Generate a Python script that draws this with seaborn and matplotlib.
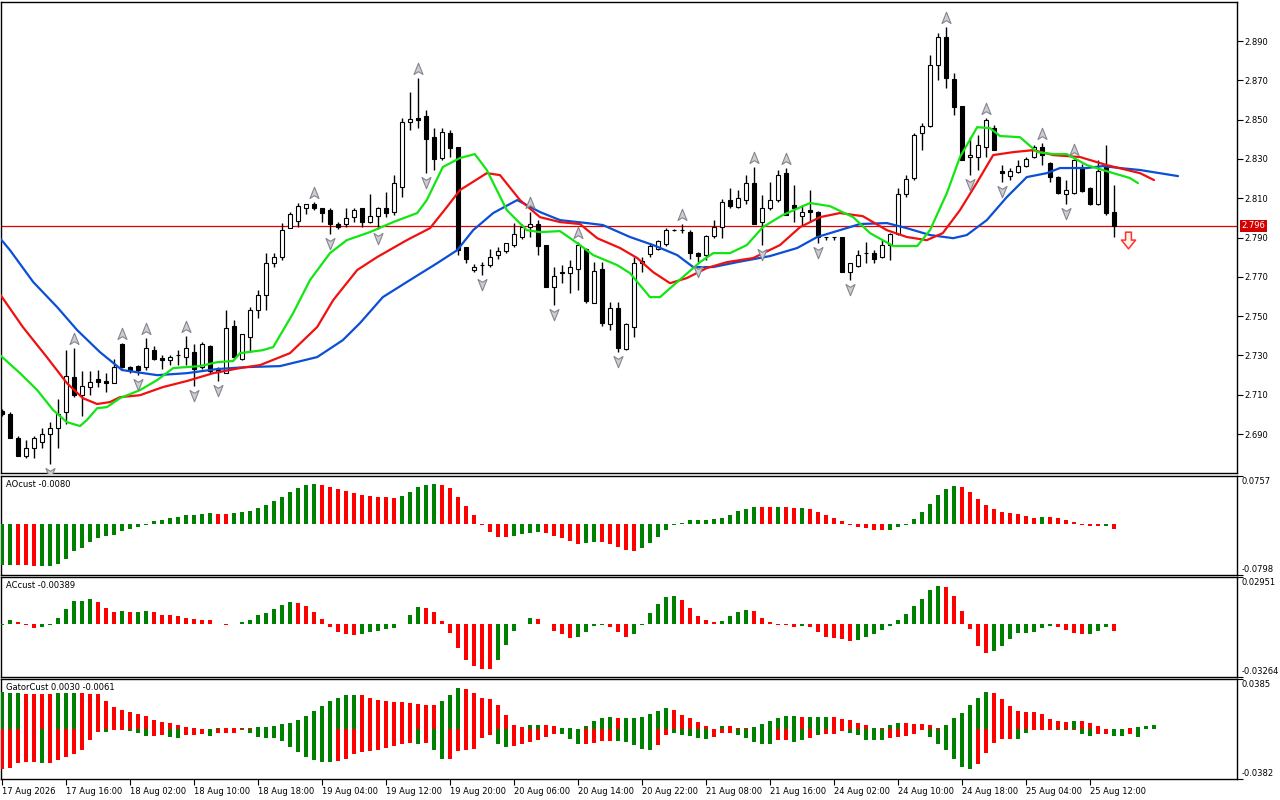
import numpy as np
import matplotlib
matplotlib.use("Agg")
import matplotlib.pyplot as plt
import seaborn as sns
from matplotlib.path import Path
from matplotlib import transforms

sns.set_theme(style="white")
plt.rcParams['font.family'] = ['DejaVu Sans']

# ---------------- DATA ----------------
OPEN = [2.702, 2.700, 2.688, 2.679, 2.683, 2.686, 2.690, 2.693, 2.701, 2.719,
        2.710, 2.714, 2.718, 2.717, 2.716, 2.736, 2.724, 2.7245, 2.724, 2.733,
        2.7285, 2.7275, 2.730, 2.729, 2.732, 2.724, 2.735, 2.7215, 2.721, 2.745,
        2.728, 2.7395, 2.753, 2.7607, 2.777, 2.780, 2.7948, 2.7984, 2.805, 2.807,
        2.805, 2.804, 2.797, 2.797, 2.8004, 2.805, 2.798, 2.801, 2.805, 2.803,
        2.816, 2.849, 2.851, 2.852, 2.841, 2.8305, 2.843, 2.836, 2.7852, 2.7735,
        2.776, 2.776, 2.781, 2.783, 2.7862, 2.7903, 2.7955, 2.797, 2.786, 2.765,
        2.772, 2.772, 2.774, 2.7841, 2.7567, 2.774, 2.746, 2.7541, 2.7333, 2.7445,
        2.777, 2.7816, 2.7841, 2.7867, 2.7938, 2.7938, 2.7928, 2.7821, 2.7811, 2.7908,
        2.7953, 2.8091, 2.8055, 2.8091, 2.8177, 2.798, 2.805, 2.809, 2.8228, 2.8065,
        2.801, 2.804, 2.803, 2.7903, 2.7903, 2.7903, 2.7724, 2.7755, 2.7821, 2.7821,
        2.7801, 2.7862, 2.7918, 2.8121, 2.8203, 2.8432, 2.8467, 2.8778, 2.8920, 2.8707,
        2.8569, 2.831, 2.831, 2.8361, 2.8457, 2.8238, 2.8213, 2.8233, 2.8264, 2.831,
        2.8361, 2.8279, 2.8208, 2.8121, 2.8126, 2.8254, 2.8152, 2.8070, 2.8259, 2.803]
HIGH = [2.703, 2.701, 2.689, 2.687, 2.689, 2.693, 2.696, 2.708, 2.733, 2.734,
        2.722, 2.722, 2.7225, 2.721, 2.728, 2.7365, 2.7245, 2.725, 2.739, 2.735,
        2.730, 2.730, 2.733, 2.740, 2.736, 2.737, 2.7355, 2.724, 2.753, 2.748,
        2.741, 2.7545, 2.7635, 2.782, 2.782, 2.7975, 2.803, 2.8076, 2.8072, 2.808,
        2.805, 2.805, 2.798, 2.805, 2.805, 2.805, 2.8121, 2.8055, 2.813, 2.822,
        2.851, 2.864, 2.871, 2.855, 2.846, 2.846, 2.8447, 2.836, 2.7852, 2.7765,
        2.7775, 2.7841, 2.785, 2.787, 2.7974, 2.7969, 2.803, 2.799, 2.786, 2.775,
        2.776, 2.7785, 2.788, 2.7845, 2.7775, 2.7775, 2.7572, 2.7572, 2.7465, 2.780,
        2.780, 2.7872, 2.789, 2.7948, 2.7942, 2.7969, 2.7938, 2.7826, 2.7913, 2.799,
        2.8096, 2.8152, 2.8142, 2.8218, 2.8259, 2.8116, 2.8182, 2.8244, 2.8254, 2.8167,
        2.8065, 2.8142, 2.8035, 2.7905, 2.7905, 2.7905, 2.777, 2.7836, 2.7877, 2.7836,
        2.7887, 2.7923, 2.8152, 2.8218, 2.8432, 2.8483, 2.8829, 2.8941, 2.8971, 2.8737,
        2.8569, 2.8411, 2.8422, 2.8508, 2.8473, 2.8269, 2.8254, 2.8294, 2.831, 2.8371,
        2.8381, 2.8284, 2.8213, 2.8193, 2.8299, 2.8274, 2.8157, 2.8294, 2.8371, 2.8167]
LOW = [2.699, 2.688, 2.679, 2.678, 2.678, 2.683, 2.675, 2.683, 2.695, 2.709,
       2.699, 2.710, 2.714, 2.7115, 2.716, 2.7235, 2.721, 2.720, 2.7225, 2.7275,
       2.723, 2.725, 2.725, 2.725, 2.7145, 2.723, 2.721, 2.717, 2.721, 2.7285,
       2.7275, 2.732, 2.749, 2.753, 2.775, 2.7785, 2.7948, 2.7953, 2.802, 2.804,
       2.7979, 2.7918, 2.7945, 2.7955, 2.798, 2.7955, 2.7975, 2.7945, 2.8004, 2.8015,
       2.8106, 2.845, 2.846, 2.823, 2.8244, 2.8294, 2.831, 2.781, 2.777, 2.7724,
       2.7712, 2.775, 2.779, 2.782, 2.785, 2.7895, 2.7903, 2.781, 2.7648, 2.7556,
       2.767, 2.762, 2.7633, 2.7567, 2.7565, 2.745, 2.7429, 2.7317, 2.733, 2.7394,
       2.7724, 2.7801, 2.7836, 2.7857, 2.7935, 2.7923, 2.779, 2.7775, 2.7785, 2.7897,
       2.7897, 2.8050, 2.805, 2.807, 2.7969, 2.7862, 2.804, 2.8081, 2.8015, 2.7979,
       2.7964, 2.7979, 2.787, 2.789, 2.789, 2.7724, 2.7684, 2.775, 2.777, 2.777,
       2.7796, 2.7785, 2.7913, 2.8106, 2.8193, 2.8345, 2.8462, 2.8702, 2.8661, 2.8523,
       2.8294, 2.8218, 2.8244, 2.831, 2.8345, 2.8182, 2.8193, 2.8228, 2.8259, 2.8305,
       2.8269, 2.8182, 2.8121, 2.807, 2.8121, 2.8132, 2.8065, 2.8065, 2.8015, 2.7903]
CLOSE = [2.700, 2.688, 2.679, 2.683, 2.688, 2.690, 2.693, 2.700, 2.7195, 2.710,
         2.7145, 2.7165, 2.7165, 2.716, 2.724, 2.724, 2.7225, 2.7225, 2.734, 2.728,
         2.7275, 2.729, 2.7302, 2.734, 2.723, 2.736, 2.722, 2.7225, 2.744, 2.729,
         2.741, 2.753, 2.761, 2.777, 2.780, 2.794, 2.802, 2.806, 2.807, 2.805,
         2.8025, 2.797, 2.7955, 2.800, 2.804, 2.798, 2.801, 2.805, 2.8025, 2.8177,
         2.849, 2.8505, 2.850, 2.840, 2.830, 2.8437, 2.8355, 2.7836, 2.779, 2.775,
         2.7762, 2.780, 2.783, 2.787, 2.792, 2.7953, 2.797, 2.7857, 2.765, 2.7704,
         2.7724, 2.775, 2.786, 2.7577, 2.7729, 2.7465, 2.7541, 2.7338, 2.746, 2.777,
         2.778, 2.7857, 2.7882, 2.7938, 2.7940, 2.794, 2.7821, 2.7806, 2.7908, 2.7953,
         2.8081, 2.806, 2.8101, 2.8177, 2.7969, 2.805, 2.809, 2.8218, 2.8015, 2.805,
         2.803, 2.803, 2.7903, 2.7905, 2.7903, 2.7724, 2.777, 2.7811, 2.7822, 2.7791,
         2.7862, 2.7918, 2.8121, 2.8198, 2.8422, 2.8467, 2.8778, 2.8920, 2.8712, 2.8564,
         2.8294, 2.832, 2.8371, 2.8498, 2.8345, 2.8228, 2.8238, 2.8264, 2.8299, 2.8361,
         2.832, 2.8208, 2.8126, 2.8142, 2.8294, 2.8137, 2.8070, 2.8238, 2.8025, 2.796]

TIME_LABELS = ["17 Aug 2026", "17 Aug 16:00", "18 Aug 02:00", "18 Aug 10:00", "18 Aug 18:00",
               "19 Aug 04:00", "19 Aug 12:00", "19 Aug 20:00", "20 Aug 06:00", "20 Aug 14:00",
               "20 Aug 22:00", "21 Aug 08:00", "21 Aug 16:00", "24 Aug 02:00", "24 Aug 10:00",
               "24 Aug 18:00", "25 Aug 04:00", "25 Aug 12:00"]
TIME_LABEL_BARS = [0, 8, 16, 24, 32, 40, 48, 56, 64, 72, 80, 88, 96, 104, 112, 120, 128, 136]

PRICE_TICKS = [2.690, 2.710, 2.730, 2.750, 2.770, 2.790, 2.810, 2.830, 2.850, 2.870, 2.890]
PRICE_RANGE = [2.6702, 2.9099]
LAST_PRICE = 2.796

UP_FRACTALS = [9, 15, 18, 23, 39, 52, 66, 72, 85, 94, 98, 118, 123, 130, 134]
DOWN_FRACTALS = [6, 17, 24, 27, 41, 47, 53, 60, 69, 77, 87, 95, 102, 106, 121, 125, 133]
SELL_SIGNALS = [139]

# Alligator lines (bar position, price)
JAW_X = [-0.25, 1, 3.9, 6.9, 9.4, 12.25, 15, 19.4, 23.1, 26.9, 30.6, 34.75, 39.4, 42.6, 44.75,
         47.6, 51, 54.4, 56.9, 58.9, 61.4, 64.4, 67.25, 69.75, 73.1, 75.1, 78.5, 81.4, 84.4,
         86.4, 88.9, 91.9, 96, 99.4, 101.9, 104.75, 107.25, 110.6, 113.1, 116, 118.9, 120.6,
         123.1, 125.6, 128.1, 130.6, 132.25, 135.6, 137.6, 139.75, 142.25, 147]
JAW_Y = [2.7897, 2.7836, 2.7674, 2.7546, 2.7429, 2.7317, 2.7226, 2.7200, 2.7210, 2.7231, 2.7241,
         2.7246, 2.7292, 2.7378, 2.7465, 2.7597, 2.7684, 2.7770, 2.7836, 2.7938, 2.8025, 2.8091,
         2.8030, 2.7989, 2.7974, 2.7964, 2.7903, 2.7862, 2.7811, 2.7750, 2.7750, 2.7775, 2.7806,
         2.7847, 2.7903, 2.7938, 2.7969, 2.7974, 2.7948, 2.7913, 2.7897, 2.7913, 2.7989, 2.8106,
         2.8208, 2.8228, 2.8254, 2.8254, 2.8264, 2.8254, 2.8244, 2.8213]
TEETH_X = [-0.25, 2.6, 5.6, 8.1, 10.1, 11.9, 13.5, 14.75, 17.25, 20.1, 23.1, 26.4, 29.75, 32.25,
           36, 39.4, 41.4, 44.4, 46.9, 50.6, 53.5, 55.6, 57.25, 60.6, 62.25, 64.75, 67.25, 69.75,
           72.25, 74.4, 77.25, 79.4, 81.4, 83.5, 85.6, 88.1, 90.6, 93.9, 97.25, 99.75, 102.25,
           104.75, 107.6, 110.6, 113.1, 115.6, 117.6, 119.75, 121.9, 123.9, 126.4, 128.9, 131.4,
           134.75, 138.1, 142.25, 144]
TEETH_Y = [2.7612, 2.7445, 2.7292, 2.7160, 2.7083, 2.7053, 2.7063, 2.7088, 2.7098, 2.7139, 2.7170,
           2.7210, 2.7236, 2.7251, 2.7312, 2.7445, 2.7582, 2.7735, 2.7801, 2.7887, 2.7948, 2.8055,
           2.8142, 2.8228, 2.8218, 2.8091, 2.8004, 2.7979, 2.7969, 2.7897, 2.7847, 2.7796, 2.7724,
           2.7668, 2.7694, 2.7745, 2.7775, 2.7796, 2.7862, 2.7953, 2.8004, 2.8025, 2.8009, 2.7938,
           2.7903, 2.7887, 2.7923, 2.8040, 2.8182, 2.8320, 2.8335, 2.8345, 2.8320, 2.8310, 2.8269,
           2.8228, 2.8193]
LIPS_X = [-0.25, 2.25, 4.4, 6.4, 8.1, 9.75, 10.6, 11.9, 13.1, 14.75, 17.25, 19.4, 21.4, 24.75,
          26.9, 28.9, 29.75, 32.6, 33.9, 36.4, 38.5, 41, 43.1, 46, 48.9, 51.9, 53.1, 55.1, 57.25,
          59.1, 60.6, 63.1, 65.6, 67.25, 69.75, 72.25, 73.9, 76.9, 78.5, 81, 82.25, 84.4, 87.25,
          88.9, 91, 93.1, 95.1, 97.6, 101, 103.5, 106.4, 108.5, 111.4, 114.4, 116, 118.1, 119.75,
          121.9, 123.5, 124.75, 127.25, 129.4, 131.4, 133.1, 135.6, 138.5, 141, 142]
LIPS_Y = [2.7302, 2.7210, 2.7124, 2.7022, 2.6961, 2.6941, 2.6971, 2.7032, 2.7037, 2.7083, 2.7124,
          2.7175, 2.7236, 2.7246, 2.7266, 2.7272, 2.7312, 2.7327, 2.7343, 2.7516, 2.7684, 2.7821,
          2.7887, 2.7928, 2.7979, 2.8025, 2.8091, 2.8259, 2.8305, 2.8325, 2.8244, 2.8040, 2.7938,
          2.7928, 2.7933, 2.7862, 2.7811, 2.7760, 2.7719, 2.7597, 2.7597, 2.7674, 2.7775, 2.7821,
          2.7821, 2.7862, 2.7953, 2.8015, 2.8076, 2.8060, 2.8004, 2.7923, 2.7857, 2.7857, 2.7938,
          2.8126, 2.8310, 2.8462, 2.8457, 2.8417, 2.8411, 2.8335, 2.8325, 2.8325, 2.8269, 2.8233,
          2.8203, 2.8177]

AO = [-0.0645, -0.0635, -0.0638, -0.0645, -0.0661, -0.0659, -0.0657, -0.0619, -0.0540, -0.0423,
      -0.0381, -0.0280, -0.0222, -0.0185, -0.0175, -0.0106, -0.0079, -0.0042, -0.0011, 0.0053,
      0.0063, 0.0101, 0.0116, 0.0143, 0.0145, 0.0159, 0.0175, 0.0160, 0.0158, 0.0175,
      0.0196, 0.0212, 0.0254, 0.0302, 0.0370, 0.0428, 0.0513, 0.0571, 0.0619, 0.0635,
      0.0619, 0.0582, 0.0555, 0.0529, 0.0492, 0.0460, 0.0450, 0.0434, 0.0432, 0.0418,
      0.0444, 0.0513, 0.0592, 0.0619, 0.0635, 0.0619, 0.0561, 0.0428, 0.0286, 0.0143,
      -0.0011, -0.0116, -0.0201, -0.0203, -0.0185, -0.0153, -0.0138, -0.0122, -0.0138, -0.0185,
      -0.0222, -0.0270, -0.0305, -0.0300, -0.0280, -0.0286, -0.0317, -0.0360, -0.0413, -0.0415,
      -0.0375, -0.0296, -0.0201, -0.0090, -0.0012, 0.0026, 0.0063, 0.0064, 0.0065, 0.0079,
      0.0095, 0.0143, 0.0206, 0.0238, 0.0270, 0.0269, 0.0268, 0.0271, 0.0266, 0.0254,
      0.0256, 0.0238, 0.0190, 0.0143, 0.0095, 0.0048, -0.0014, -0.0048, -0.0063, -0.0090,
      -0.0091, -0.0089, -0.0048, -0.0011, 0.0079, 0.0190, 0.0317, 0.0460, 0.0555, 0.0603,
      0.0587, 0.0508, 0.0397, 0.0301, 0.0238, 0.0190, 0.0175, 0.0159, 0.0127, 0.0095,
      0.0111, 0.0110, 0.0095, 0.0063, 0.0032, -0.0011, -0.0032, -0.0033, -0.0031, -0.0080]
AO_DIR = ("ggrrrggggg" "gggggggggg" "gggggggrrg" "gggggggggg" "rrrrrrrrrr"
          "gggggrrrrr" "rrrrggggrr" "rrrggrrrrr" "gggggggggg" "gggggrrgrr"
          "grrrrrrrrr" "rggggggggg" "rrrrrrrrrr" "grrrrrrrgr")
AO_RANGE = [-0.0798, 0.0757]

AC = [-0.0004, 0.0025, 0.0013, -0.0004, -0.0023, -0.0017, -0.0004, 0.0038, 0.0094, 0.0144,
      0.0146, 0.0157, 0.0138, 0.0100, 0.0077, 0.0082, 0.0077, 0.0078, 0.0084, 0.0077,
      0.0057, 0.0056, 0.0050, 0.0042, 0.0031, 0.0027, 0.0026, 0.0004, -0.0002, 0.0004,
      0.0013, 0.0027, 0.0057, 0.0069, 0.0094, 0.0119, 0.0140, 0.0134, 0.0113, 0.0077,
      0.0031, -0.0017, -0.0048, -0.0061, -0.0067, -0.0061, -0.0048, -0.0042, -0.0029, -0.0023,
      0.0004, 0.0057, 0.0107, 0.0100, 0.0077, 0.0019, -0.0054, -0.0149, -0.0218, -0.0255,
      -0.0274, -0.0275, -0.0218, -0.0130, -0.0042, 0.0004, 0.0038, 0.0037, 0.0004, -0.0042,
      -0.0061, -0.0086, -0.0075, -0.0044, -0.0010, -0.0004, -0.0017, -0.0048, -0.0075, -0.0057,
      -0.0004, 0.0069, 0.0126, 0.0170, 0.0176, 0.0151, 0.0100, 0.0050, 0.0025, 0.0013,
      0.0019, 0.0050, 0.0075, 0.0088, 0.0082, 0.0038, 0.0013, -0.0002, -0.0003, -0.0017,
      -0.0010, -0.0017, -0.0048, -0.0075, -0.0086, -0.0092, -0.0105, -0.0096, -0.0075, -0.0061,
      -0.0036, -0.0010, 0.0025, 0.0063, 0.0113, 0.0157, 0.0213, 0.0239, 0.0232, 0.0176,
      0.0082, -0.0029, -0.0136, -0.0180, -0.0167, -0.0136, -0.0092, -0.0054, -0.0053, -0.0048,
      -0.0023, -0.0010, -0.0017, -0.0036, -0.0054, -0.0061, -0.0060, -0.0042, -0.0017, -0.0039]
AC_DIR = ("ggrrrggggg" "ggrrrgrggr" "rrrrrrrrrg" "gggggggrrr" "rrrrrggggg"
          "gggrrrrrrr" "rrgggggrrr" "rrggggrrrg" "gggggrrrrr" "ggggrrrrrr"
          "grrrrrrggg" "ggggggggrr" "rrrrgggggg" "ggrrrrgggr")
AC_RANGE = [-0.03264, 0.02951]

GATOR_UP = [0.0284, 0.0274, 0.0274, 0.0273, 0.0272, 0.0271, 0.0270, 0.0274, 0.0276, 0.0278,
            0.0275, 0.0273, 0.0269, 0.0219, 0.0172, 0.0149, 0.0133, 0.0117, 0.0102, 0.0070,
            0.0055, 0.0047, 0.0031, 0.0016, 0.0008, 0.0003, 0.0004, 0.0008, 0.0007, 0.0006,
            0.0008, 0.0007, 0.0016, 0.0017, 0.0023, 0.0039, 0.0047, 0.0070, 0.0102, 0.0141,
            0.0180, 0.0219, 0.0243, 0.0261, 0.0262, 0.0260, 0.0243, 0.0227, 0.0219, 0.0211,
            0.0210, 0.0203, 0.0196, 0.0188, 0.0187, 0.0219, 0.0266, 0.0313, 0.0305, 0.0274,
            0.0243, 0.0235, 0.0188, 0.0110, 0.0031, 0.0016, 0.0031, 0.0032, 0.0030, 0.0023,
            0.0008, 0.0008, 0.0001, 0.0023, 0.0063, 0.0086, 0.0094, 0.0086, 0.0087, 0.0088,
            0.0094, 0.0117, 0.0141, 0.0164, 0.0149, 0.0110, 0.0083, 0.0055, 0.0023, 0.0002,
            0.0023, 0.0022, 0.0008, 0.0007, 0.0016, 0.0039, 0.0063, 0.0086, 0.0102, 0.0103,
            0.0094, 0.0095, 0.0096, 0.0097, 0.0094, 0.0078, 0.0070, 0.0047, 0.0031, 0.0008,
            0.0008, 0.0031, 0.0047, 0.0046, 0.0039, 0.0038, 0.0031, 0.0008, 0.0031, 0.0086,
            0.0122, 0.0186, 0.0237, 0.0283, 0.0275, 0.0229, 0.0178, 0.0140, 0.0132, 0.0130,
            0.0117, 0.0078, 0.0063, 0.0055, 0.0064, 0.0063, 0.0045, 0.0025, 0.0005, 0.0001,
            0.0001, 0.0010, 0.0020, 0.0022, 0.0030]
GATOR_UP_DIR = ("gggrrrrggg" "rrrrrrrrrr" "rrrrrrggrr" "grgggggggg" "gggggrrrrr"
                "rrrrrgggrr" "rrrrrrggrr" "gggggggrgg" "ggggrrrrrr" "grrrgggggg"
                "rgggrrrrrg" "rggrrrrrgg" "ggggrrrrrr" "rrrrgrrrrr" "rrggg")
GATOR_DOWN = [-0.0305, -0.0295, -0.0258, -0.0253, -0.0248, -0.0258, -0.0257, -0.0240, -0.0211, -0.0193,
              -0.0156, -0.0083, -0.0021, -0.0023, -0.0008, -0.0007, -0.0016, -0.0031, -0.0055, -0.0054,
              -0.0044, -0.0063, -0.0070, -0.0047, -0.0046, -0.0037, -0.0052, -0.0031, -0.0030, -0.0029,
              -0.0010, -0.0031, -0.0063, -0.0064, -0.0070, -0.0094, -0.0133, -0.0177, -0.0211, -0.0240,
              -0.0248, -0.0249, -0.0247, -0.0227, -0.0193, -0.0175, -0.0167, -0.0156, -0.0143, -0.0130,
              -0.0115, -0.0107, -0.0112, -0.0107, -0.0156, -0.0227, -0.0226, -0.0170, -0.0156, -0.0154,
              -0.0070, -0.0044, -0.0117, -0.0138, -0.0130, -0.0117, -0.0099, -0.0083, -0.0063, -0.0037,
              -0.0037, -0.0078, -0.0115, -0.0114, -0.0107, -0.0091, -0.0090, -0.0092, -0.0099, -0.0123,
              -0.0154, -0.0162, -0.0123, -0.0044, -0.0029, -0.0044, -0.0056, -0.0068, -0.0076, -0.0060,
              -0.0029, -0.0028, -0.0044, -0.0068, -0.0099, -0.0115, -0.0116, -0.0083, -0.0082, -0.0099,
              -0.0083, -0.0068, -0.0044, -0.0037, -0.0036, -0.0013, -0.0031, -0.0044, -0.0083, -0.0084,
              -0.0083, -0.0068, -0.0060, -0.0052, -0.0037, -0.0005, -0.0060, -0.0115, -0.0162, -0.0232,
              -0.0288, -0.0307, -0.0267, -0.0180, -0.0108, -0.0075, -0.0075, -0.0076, -0.0027, -0.0006,
              -0.0006, -0.0006, -0.0006, -0.0010, -0.0006, -0.0037, -0.0050, -0.0035, -0.0035, -0.0050,
              -0.0050, -0.0035, -0.0061]
GATOR_DOWN_DIR = ("rrrrrgrrrr" "rrrgrrgggr" "rggrrrgrrr" "rggggggggg" "ggrrrrrrrr"
                  "rrgrggrrrr" "rrggrrrrrr" "gggrrrrggg" "ggrrgggggr" "rrgggggrrg"
                  "grgrrrgggg" "grrrrrgggg" "ggrrrrrggr" "rrggrggrrg" "grg")
GATOR_RANGE = [-0.0382, 0.0385]

PANEL_TITLES = ["AOcust -0.0080", "ACcust -0.00389", "GatorCust 0.0030 -0.0061"]

# ---------------- STYLE ----------------
W, H = 1280, 800
GREEN, RED = '#008000', '#ff0000'
CMAP = {'g': GREEN, 'r': RED}
FS = 6.0

fig = plt.figure(figsize=(W / 100, H / 100), dpi=100)
fig.patch.set_facecolor('white')


def px_axes(x0, y0, x1, y1):
    a = fig.add_axes([x0 / W, 1 - y1 / H, (x1 - x0) / W, (y1 - y0) / H])
    a.set_facecolor('white')
    for s in a.spines.values():
        s.set_color('black')
        s.set_linewidth(1.0)
        s.set_visible(True)
    a.set_xlim(-0.125, 154.375)
    return a


ax = px_axes(1, 2, 1237, 473)
ax_ao = px_axes(1, 476, 1237, 575)
ax_ac = px_axes(1, 577, 1237, 677)
ax_gt = px_axes(1, 679, 1237, 779)

# ---------------- MAIN PANEL ----------------
o = np.array(OPEN); h = np.array(HIGH); l = np.array(LOW); c = np.array(CLOSE)
idx = np.arange(len(o))
ax.vlines(idx, l, h, color='black', lw=1.0, zorder=3)
ax.bar(idx, np.abs(c - o), bottom=np.minimum(o, c), width=0.62,
       color=np.where(c >= o, 'white', 'black'), edgecolor='black', linewidth=0.8, zorder=4)

sns.lineplot(x=JAW_X, y=JAW_Y, ax=ax, color='#0a4fd6', lw=1.6, sort=False, estimator=None, zorder=5)
sns.lineplot(x=TEETH_X, y=TEETH_Y, ax=ax, color='#f01010', lw=1.6, sort=False, estimator=None, zorder=6)
sns.lineplot(x=LIPS_X, y=LIPS_Y, ax=ax, color='#12e612', lw=1.6, sort=False, estimator=None, zorder=7)

ax.axhline(LAST_PRICE, color='#e00000', lw=0.9, zorder=2)

up_path = Path([(0, 1), (0.72, -0.8), (0, -0.35), (-0.72, -0.8), (0, 1)],
               [Path.MOVETO, Path.LINETO, Path.LINETO, Path.LINETO, Path.CLOSEPOLY])
dn_path = Path([(0, -1), (0.72, 0.8), (0, 0.35), (-0.72, 0.8), (0, -1)],
               [Path.MOVETO, Path.LINETO, Path.LINETO, Path.LINETO, Path.CLOSEPOLY])
tr_up = transforms.offset_copy(ax.transData, fig=fig, x=0, y=9, units='dots')
tr_dn = transforms.offset_copy(ax.transData, fig=fig, x=0, y=-9, units='dots')
ax.plot(UP_FRACTALS, h[UP_FRACTALS], ls='none', marker=up_path, ms=9, mfc='#cdcdd2',
        mec='#85858f', mew=0.8, transform=tr_up, zorder=8)
ax.plot(DOWN_FRACTALS, l[DOWN_FRACTALS], ls='none', marker=dn_path, ms=9, mfc='#cdcdd2',
        mec='#85858f', mew=0.8, transform=tr_dn, zorder=8)

sell_path = Path([(-0.35, 1), (0.35, 1), (0.35, 0.05), (0.85, 0.05), (0, -1), (-0.85, 0.05),
                  (-0.35, 0.05), (-0.35, 1)],
                 [Path.MOVETO] + [Path.LINETO] * 6 + [Path.CLOSEPOLY])
tr_sell = transforms.offset_copy(ax.transData, fig=fig, x=14, y=-3, units='dots')
ax.plot(SELL_SIGNALS, l[SELL_SIGNALS], ls='none', marker=sell_path, ms=12, mfc='#fff4e8',
        mec='#ff3030', mew=1.1, transform=tr_sell, zorder=9, clip_on=False)

ax.set_ylim(*PRICE_RANGE)
ax.set_yticks(PRICE_TICKS)
ax.set_yticklabels([f"{v:.3f}" for v in PRICE_TICKS])
ax.set_xticks([])
ax.set_xlabel(''); ax.set_ylabel('')
ax.tick_params(axis='y', left=False, labelleft=False, right=True, labelright=True,
               direction='out', length=4, width=0.8, labelsize=FS, pad=1.5, colors='black')
blend = transforms.blended_transform_factory(ax.transAxes, ax.transData)
ax.text(1.0035, LAST_PRICE, f"{LAST_PRICE:.3f}", transform=blend, fontsize=FS, color='white',
        va='center', ha='left', zorder=10, clip_on=False,
        bbox=dict(boxstyle='square,pad=0.18', fc='#d40000', ec='none'))


# ---------------- SUB PANELS ----------------
def histo(a, vals, dirs, rng, title, fmt, height_px):
    a.bar(np.arange(len(vals)), vals, width=0.5, color=[CMAP[k] for k in dirs],
          linewidth=0, zorder=3)
    a.set_ylim(*rng)
    a.set_yticks(rng)
    a.set_xlabel(''); a.set_ylabel('')
    a.tick_params(axis='y', left=False, labelleft=False, right=True, labelright=False,
                  direction='out', length=4, width=0.8, colors='black')
    a.text(1.0035, 1 - 5.5 / height_px, fmt.format(rng[1]), transform=a.transAxes,
           fontsize=FS, va='center', ha='left', color='black', clip_on=False)
    a.text(1.0035, 5.5 / height_px, fmt.format(rng[0]), transform=a.transAxes,
           fontsize=FS, va='center', ha='left', color='black', clip_on=False)
    a.text(0.004, 1 - 8.5 / height_px, title, transform=a.transAxes, fontsize=FS, va='center',
           ha='left', color='black', zorder=10)


histo(ax_ao, AO, AO_DIR, AO_RANGE, PANEL_TITLES[0], "{:.4f}", 99)
histo(ax_ac, AC, AC_DIR, AC_RANGE, PANEL_TITLES[1], "{:.5f}", 100)
histo(ax_gt, GATOR_UP, GATOR_UP_DIR, GATOR_RANGE, PANEL_TITLES[2], "{:.4f}", 100)
ax_gt.bar(np.arange(len(GATOR_DOWN)), GATOR_DOWN, width=0.5,
          color=[CMAP[k] for k in GATOR_DOWN_DIR], linewidth=0, zorder=3)

for a in (ax_ao, ax_ac):
    a.set_xticks([])

ax_gt.set_xticks(TIME_LABEL_BARS)
ax_gt.set_xticklabels(TIME_LABELS)
ax_gt.tick_params(axis='x', bottom=True, labelbottom=True, direction='out', length=4,
                  width=0.8, labelsize=FS, pad=1.5, colors='black')
for t in ax_gt.get_xticklabels():
    t.set_ha('left')

fig.savefig('out.png', dpi=100, facecolor='white')
